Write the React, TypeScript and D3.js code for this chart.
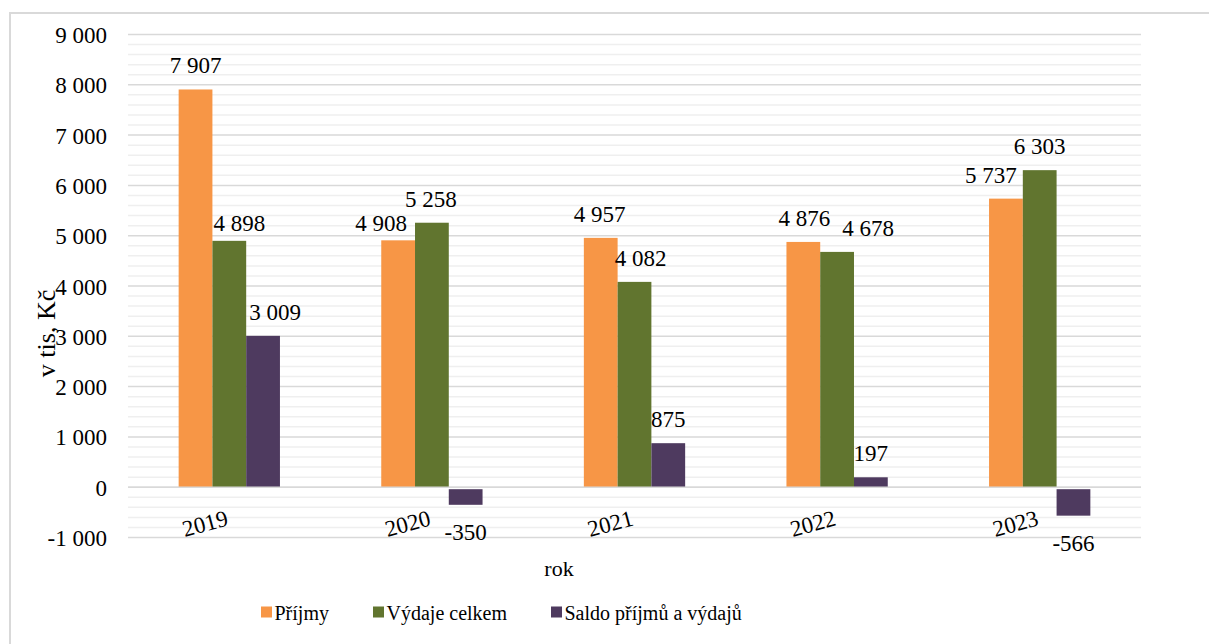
import React from "react";
import * as d3 from "d3";

const years = ["2019", "2020", "2021", "2022", "2023"];
const seriesNames = ["Příjmy", "Výdaje celkem", "Saldo příjmů a výdajů"];
const prijmy = [7907, 4908, 4957, 4876, 5737];
const vydaje = [4898, 5258, 4082, 4678, 6303];
const saldo = [3009, -350, 875, 197, -566];
const yTicks = [-1000, 0, 1000, 2000, 3000, 4000, 5000, 6000, 7000, 8000, 9000];
const colors = ["#F79646", "#61752F", "#4E3A5F"];

// label nudges (dx, dy) in pixels, per series per year, as placed in the reference
const labelNudge: [number, number][][] = [
  [[0, 0], [-17, 7], [-1, 0], [1, 0], [-15, 0]],
  [[10, 6], [-1, 0], [6, 0], [31, 0], [0, 0]],
  [[12, 0], [0, 0], [0, 0], [0, 0], [0, 0]],
];

const W = 1209;
const H = 644;
const left = 128;
const right = 1141;
const top = 34.5;
const bottom = 537.5;
const font =
  '"Liberation Serif", "Times New Roman", Times, Tinos, "DejaVu Serif", "Noto Serif", FreeSerif, "Nimbus Roman", serif';

const loc = d3.formatLocale({
  decimal: ",",
  thousands: " ",
  grouping: [3],
  currency: ["", ""],
  minus: "-",
});
const fmt = loc.format(",d");

const ts = { fontFamily: font };

export default function App() {
  const series = [prijmy, vydaje, saldo];
  const x = d3.scaleBand<string>().domain(years).range([left, right]).paddingInner(0.5).paddingOuter(0.25);
  const xi = d3.scaleBand<number>().domain([0, 1, 2]).range([0, x.bandwidth()]);
  const y = d3.scaleLinear().domain([-1000, 9000]).range([bottom, top]);
  const minorTicks = d3.range(-1000, 9001, 200).filter((v) => v % 1000 !== 0);
  const y0 = y(0);

  return (
    <svg
      width={W}
      height={H}
      style={{ position: "absolute", left: 0, top: 0, background: "#fff", fontFamily: font }}
    >
      <rect x={10} y={13} width={W + 20} height={H + 20} fill="#fff" stroke="#d9d9d9" strokeWidth={2} />
      {minorTicks.map((v) => (
        <line key={"m" + v} x1={left} x2={right} y1={y(v)} y2={y(v)} stroke="#efefef" strokeWidth={1.5} />
      ))}
      {yTicks.map((v) => (
        <line key={"g" + v} x1={left} x2={right} y1={y(v)} y2={y(v)} stroke="#d9d9d9" strokeWidth={1.5} />
      ))}
      {yTicks.map((v) => (
        <text key={"t" + v} x={107} y={y(v) + 8.5} textAnchor="end" fontSize={23} fill="#000" style={ts}>
          {fmt(v)}
        </text>
      ))}
      {series.map((vals, si) =>
        vals.map((v, i) => {
          const bx = (x(years[i]) as number) + (xi(si) as number);
          const bw = xi.bandwidth();
          const yt = v >= 0 ? y(v) : y0 + 2;
          const yb = v >= 0 ? y0 : y(v);
          return (
            <rect key={`b${si}-${i}`} x={bx} y={yt} width={bw} height={yb - yt} fill={colors[si]} />
          );
        })
      )}
      <line x1={left} x2={right} y1={y0} y2={y0} stroke="#d9d9d9" strokeWidth={1.5} />
      {series.map((vals, si) =>
        vals.map((v, i) => {
          const cx = (x(years[i]) as number) + (xi(si) as number) + xi.bandwidth() / 2;
          const [dx, dy] = labelNudge[si][i];
          const ty = v >= 0 ? y(v) - 16 + dy : y(v) + 35 + dy;
          return (
            <text key={`l${si}-${i}`} x={cx + dx} y={ty} textAnchor="middle" fontSize={23} fill="#000" style={ts}>
              {fmt(v)}
            </text>
          );
        })
      )}
      {years.map((yr) => {
        const cx = (x(yr) as number) + x.bandwidth() / 2;
        return (
          <text
            key={"x" + yr}
            transform={`translate(${cx},525) rotate(-15)`}
            textAnchor="end"
            fontSize={23}
            fill="#000"
            style={ts}
          >
            {yr}
          </text>
        );
      })}
      <text transform="translate(55,333.5) rotate(-90)" textAnchor="middle" fontSize={26} fill="#000" style={ts}>
        v tis, Kč
      </text>
      <text x={559} y={576} textAnchor="middle" fontSize={22} fill="#000" style={ts}>
        rok
      </text>
      {seriesNames.map((name, si) => {
        const lx = [261, 373, 551][si];
        return (
          <g key={"lg" + si}>
            <rect x={lx} y={606.5} width={11} height={11} fill={colors[si]} />
            <text x={lx + 13.5} y={620} fontSize={20} fill="#000" style={ts}>
              {name}
            </text>
          </g>
        );
      })}
    </svg>
  );
}
